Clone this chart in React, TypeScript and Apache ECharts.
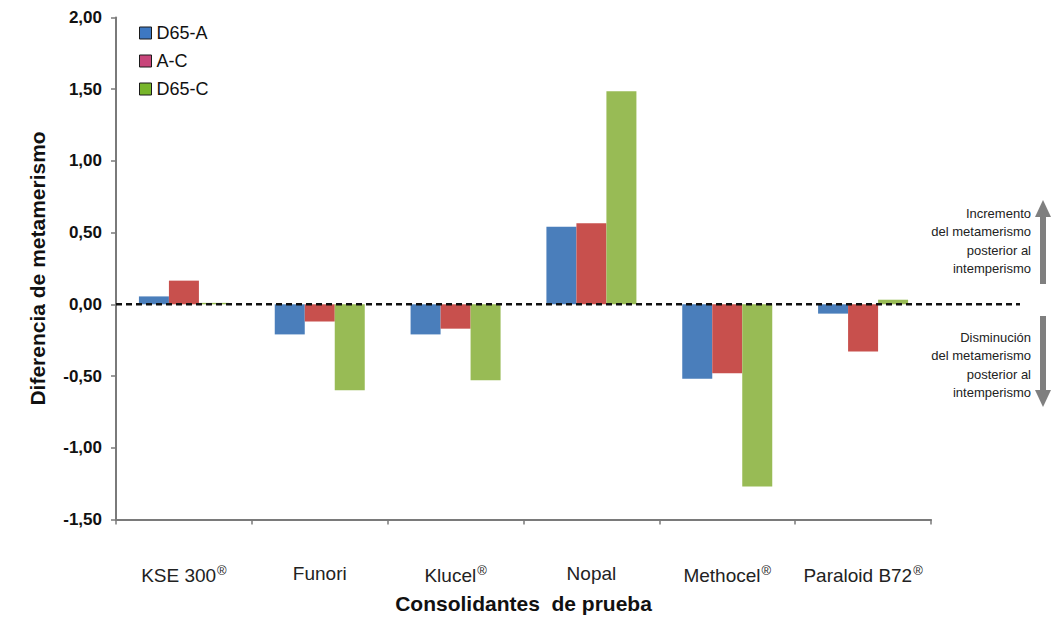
import React, { useEffect, useRef } from "react";
import * as echarts from "echarts";

const categories = ["KSE 300®", "Funori", "Klucel®", "Nopal", "Methocel®", "Paraloid B72®"];
const seriesNames = ["D65-A", "A-C", "D65-C"];
const d65a = [0.055, -0.21, -0.21, 0.54, -0.52, -0.065];
const ac = [0.165, -0.12, -0.17, 0.565, -0.48, -0.33];
const d65c = [0.01, -0.6, -0.53, 1.485, -1.27, 0.032];
const yTicks = { min: -1.5, max: 2, interval: 0.5 };
const upText = ["Incremento", "del metamerismo", "posterior al", "intemperismo"];
const downText = ["Disminución", "del metamerismo", "posterior al", "intemperismo"];

const barColors = ["#4A7EBB", "#C8504D", "#98BB55"];
const legendColors = ["#3D78C2", "#C8457A", "#77B52A"];
const narrow = "'Liberation Sans Narrow', 'Arial Narrow', 'Liberation Sans', sans-serif";
const sans = "'Liberation Sans', Arial, sans-serif";

export default function App() {
  const ref = useRef<HTMLDivElement>(null);
  useEffect(() => {
    if (!ref.current) return;
    const chart = echarts.init(ref.current, undefined, { renderer: "svg" });
    const gridTop = 17.5;
    const gridBottom = 108.6;
    const seriesData = [d65a, ac, d65c];
    const option: any = {
      animation: false,
      backgroundColor: "#ffffff",
      grid: [
        { left: 116, right: 121, top: gridTop, bottom: gridBottom },
        { left: 116, right: 32, top: gridTop, bottom: gridBottom },
      ],
      legend: {
        orient: "vertical",
        left: 134,
        top: 18,
        itemWidth: 12,
        itemHeight: 12,
        itemGap: 8,
        icon: "rect",
        textStyle: { fontSize: 18, lineHeight: 20, color: "#111", fontFamily: narrow },
        data: seriesNames.map((n, i) => ({
          name: n,
          itemStyle: { color: legendColors[i], borderColor: "#1a1a1a", borderWidth: 1 },
        })),
      },
      xAxis: [
        {
          type: "category",
          gridIndex: 0,
          data: categories,
          position: "bottom",
          axisLine: { onZero: false, lineStyle: { color: "#7a7a7a", width: 2 } },
          axisTick: { show: true, interval: 0, length: 5, lineStyle: { color: "#7a7a7a", width: 1.5 } },
          axisLabel: {
            interval: 0,
            margin: 45,
            color: "#222",
            fontFamily: narrow,
            formatter: (v: string) =>
              v.endsWith("®") ? `{n|${v.slice(0, -1)}}{s|®}` : `{n|${v}}`,
            rich: {
              n: { fontSize: 19, color: "#222", fontFamily: narrow },
              s: { fontSize: 13, color: "#222", verticalAlign: "top", padding: [0, 0, 10, 1], fontFamily: narrow },
            },
          },
          name: "Consolidantes  de prueba",
          nameLocation: "middle",
          nameGap: 74,
          nameTextStyle: { fontSize: 21, fontWeight: "bold", color: "#111", fontFamily: sans },
          splitLine: { show: false },
        },
        {
          type: "value",
          gridIndex: 1,
          min: 0,
          max: 1,
          show: false,
        },
      ],
      yAxis: [
        {
          type: "value",
          gridIndex: 0,
          min: yTicks.min,
          max: yTicks.max,
          interval: yTicks.interval,
          axisLine: { show: true, lineStyle: { color: "#7a7a7a", width: 2 } },
          axisTick: { show: true, length: 5, lineStyle: { color: "#7a7a7a", width: 1.5 } },
          splitLine: { show: false },
          axisLabel: {
            margin: 14,
            fontSize: 17,
            fontWeight: "bold",
            color: "#111",
            fontFamily: sans,
            formatter: (v: number) => v.toFixed(2).replace(".", ","),
          },
          name: "Diferencia de metamerismo",
          nameLocation: "middle",
          nameRotate: 90,
          nameGap: 68,
          nameTextStyle: { fontSize: 21, fontWeight: "bold", color: "#111", fontFamily: sans },
        },
        {
          type: "value",
          gridIndex: 1,
          min: yTicks.min,
          max: yTicks.max,
          show: false,
        },
      ],
      series: [
        ...seriesNames.map((n, i) => ({
          name: n,
          type: "bar",
          xAxisIndex: 0,
          yAxisIndex: 0,
          data: seriesData[i],
          barWidth: 30,
          barGap: "0%",
          itemStyle: { color: barColors[i] },
        })),
        {
          name: "zero",
          type: "line",
          xAxisIndex: 1,
          yAxisIndex: 1,
          data: [[0, 0], [1, 0]],
          symbol: "none",
          silent: true,
          lineStyle: { color: "#111", width: 2.5, type: [6, 4] },
          z: 5,
        },
      ],
      graphic: [
        {
          type: "text",
          x: 1031,
          y: 204,
          style: {
            text: upText.join("\n"),
            align: "right",
            verticalAlign: "top",
            fontSize: 13,
            lineHeight: 18.5,
            fill: "#222",
            fontFamily: narrow,
          },
        },
        {
          type: "text",
          x: 1031,
          y: 328,
          style: {
            text: downText.join("\n"),
            align: "right",
            verticalAlign: "top",
            fontSize: 13,
            lineHeight: 18.5,
            fill: "#222",
            fontFamily: narrow,
          },
        },
        { type: "rect", shape: { x: 1040, y: 214, width: 6, height: 70 }, style: { fill: "#7f7f7f" } },
        { type: "polygon", shape: { points: [[1035, 217], [1043, 200], [1051, 217]] }, style: { fill: "#7f7f7f" } },
        { type: "rect", shape: { x: 1040, y: 316, width: 6, height: 76 }, style: { fill: "#7f7f7f" } },
        { type: "polygon", shape: { points: [[1035, 390], [1043, 407], [1051, 390]] }, style: { fill: "#7f7f7f" } },
      ],
    };
    chart.setOption(option);
    return () => chart.dispose();
  }, []);
  return (
    <div
      ref={ref}
      style={{ position: "absolute", left: 0, top: 0, width: 1052, height: 628, background: "#fff" }}
    />
  );
}
